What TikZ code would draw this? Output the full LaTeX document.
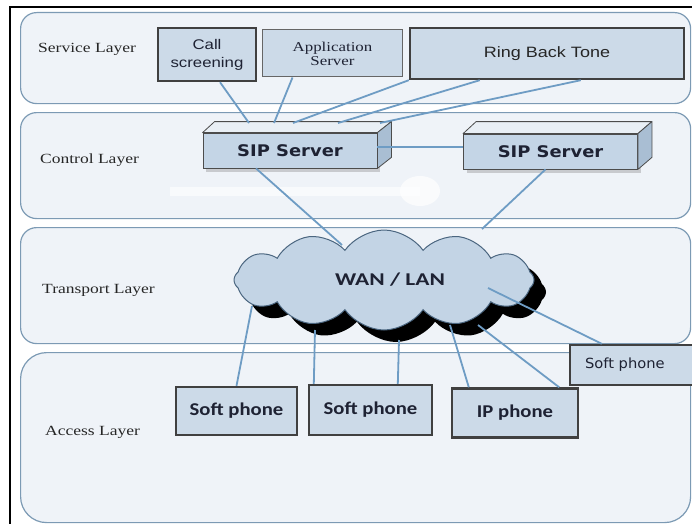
\documentclass[tikz,border=0pt]{standalone}
\usepackage{fontspec}
\setmainfont{Liberation Serif}
\newfontfamily\layerfont{Liberation Serif}[FakeStretch=1.25]
\newfontfamily\boxfont{Liberation Sans}[FakeStretch=1.2]
\newfontfamily\phonefont{Carlito}[FakeStretch=1.15]
\newfontfamily\wanfont{Carlito}[FakeStretch=1.3]
\newfontfamily\sipfont{DejaVu Sans}[FakeStretch=1.12]
\newfontfamily\plainphone{DejaVu Sans}[FakeStretch=1.05]
\usetikzlibrary{shapes.symbols,calc,shadows}

\definecolor{layerfill}{HTML}{EFF3F8}
\definecolor{layerline}{HTML}{7C9AB4}
\definecolor{boxfill}{HTML}{CCDAE8}
\definecolor{boxline}{HTML}{404040}
\definecolor{linkblue}{HTML}{6E9CC4}
\definecolor{cloudfill}{HTML}{C3D4E5}
\definecolor{cloudline}{HTML}{4B6680}
\definecolor{inktext}{HTML}{1E2233}
\definecolor{sipfill}{HTML}{C4D5E6}
\definecolor{siptop}{HTML}{E9EFF5}
\definecolor{sipside}{HTML}{A9BED3}

\tikzset{
  layer/.style={draw=layerline, fill=layerfill, line width=1.2pt,
    rounded corners=16pt, anchor=north west, inner sep=0pt},
  layerlabel/.style={anchor=west, text=black!85, inner sep=0pt,
    font=\layerfont\fontsize{14}{16}\selectfont},
  thickbox/.style={draw=boxline, fill=boxfill, line width=2.4pt, inner sep=0pt,
    text=inktext},
  thinbox/.style={draw=boxline!80, fill=boxfill, line width=1pt, inner sep=0pt,
    text=inktext},
  sipfront/.style={draw=black!70, fill=sipfill, line width=0.8pt, inner sep=0pt,
    minimum width=174pt, minimum height=35pt, text=inktext,
    font=\sipfont\bfseries\fontsize{16}{18}\selectfont,
    drop shadow={shadow xshift=3pt, shadow yshift=-4pt, opacity=0.35}},
  sipface/.style={draw=black!70, line width=0.8pt, line join=round},
  link/.style={draw=linkblue, line width=1.8pt},
  netcloud/.style={cloud, cloud puffs=12, cloud puff arc=110, aspect=3,
    minimum width=300pt, minimum height=100pt, inner sep=0pt},
  phonelabel/.style={font=\phonefont\bfseries\fontsize{18}{20}\selectfont}
}

\begin{document}
\begin{tikzpicture}[x=1pt,y=-1pt]
\useasboundingbox (0,0) rectangle (692,524);
\clip (0,0) rectangle (692,524);
\fill[white] (0,0) rectangle (692,524);

% page frame
\draw[line width=2pt] (692,7) -- (10,7) -- (10,524);

% the four layers
\node[layer, minimum width=670pt, minimum height=91pt] (service) at (20,12) {};
\node[layer, minimum width=670pt, minimum height=106pt] (control) at (20,112) {};
\node[layer, minimum width=670pt, minimum height=116pt] (transport) at (20,227) {};
\node[layer, minimum width=670pt, minimum height=170pt, rounded corners=26pt] (access) at (20,352) {};

\node[layerlabel] (lservice) at (38,49) {Service Layer};
\node[layerlabel] (lcontrol) at (40,160) {Control Layer};
\node[layerlabel] (ltransport) at (42,290) {Transport Layer};
\node[layerlabel] (laccess) at (45,432) {Access Layer};

% washed-out patch in the control layer
\fill[white, opacity=0.6] (170,187) rectangle (420,196);
\fill[white, opacity=0.7] (420,191) ellipse [x radius=20pt, y radius=15pt];

% service layer boxes
\node[thickbox, minimum width=98pt, minimum height=53pt, align=center,
  font=\boxfont\fontsize{14}{18}\selectfont] (cs) at (207,54.5) {Call\\screening};
\node[thinbox, minimum width=140pt, minimum height=47pt, align=center,
  font=\layerfont\fontsize{13.5}{14}\selectfont] (as) at (332.5,53.5) {Application\\Server};
\node[thickbox, minimum width=274pt, minimum height=51pt,
  font=\boxfont\fontsize{15}{17}\selectfont, text=black!85] (rbt) at (547,53.5) {Ring Back Tone};

% SIP servers drawn as boxes
\node[sipfront] (sipA) at (290,150.5) {SIP Server};
\filldraw[sipface, fill=siptop] (sipA.north west) -- ++(12pt,11pt)
  -- ($(sipA.north east)+(14pt,11pt)$) -- (sipA.north east) -- cycle;
\filldraw[sipface, fill=sipside] (sipA.north east) -- ++(14pt,11pt)
  -- ($(sipA.south east)+(14pt,11pt)$) -- (sipA.south east) -- cycle;

\node[sipfront] (sipB) at (550.5,151.5) {SIP Server};
\filldraw[sipface, fill=siptop] (sipB.north west) -- ++(13pt,12pt)
  -- ($(sipB.north east)+(14pt,12pt)$) -- (sipB.north east) -- cycle;
\filldraw[sipface, fill=sipside] (sipB.north east) -- ++(14pt,12pt)
  -- ($(sipB.south east)+(14pt,12pt)$) -- (sipB.south east) -- cycle;

% network cloud with its hard shadow
\node[netcloud, fill=black] (netshadow) at (396,292) {};
\node[netcloud, fill=cloudfill, draw=cloudline, line width=1pt] (net) at (384,280) {};
\node[font=\wanfont\bfseries\fontsize{18}{20}\selectfont, text=inktext] (wan) at (390,280) {WAN / LAN};

% access layer devices
\node[thickbox, minimum width=121pt, minimum height=48pt, phonelabel] (sp1) at (236.5,411) {Soft phone};
\node[thickbox, minimum width=123pt, minimum height=50pt, phonelabel] (sp2) at (370.5,410) {\raisebox{2pt}{Soft phone}};
\node[thickbox, minimum width=126pt, minimum height=49pt, phonelabel] (ip) at (515,413) {IP phone};
\node[thickbox, minimum width=132pt, minimum height=40pt, text width=102pt, align=left,
  inner xsep=15pt, font=\plainphone\fontsize{14}{16}\selectfont] (sp3) at (636,365) {Soft phone};

% attachment points on the SIP server tops
\coordinate (ta1) at (249,123);
\coordinate (ta2) at (274,123);
\coordinate (ta3) at (293,123);
\coordinate (ta4) at (338,123);
\coordinate (ta5) at (380,123);

% attachment points on the cloud
\coordinate (nA) at (342,245);
\coordinate (nB) at (482,229);
\coordinate (n1) at (252,306);
\coordinate (n2) at (315,330);
\coordinate (n3) at (399,340);
\coordinate (n4) at (450,325);
\coordinate (n5) at (478,325);
\coordinate (n6) at (488,288);

% service -> control links
\draw[link] ($(cs.south)+(13pt,0)$) -- (ta1);
\draw[link] ($(as.south)+(-40pt,0)$) -- (ta2);
\draw[link] (rbt.south west) -- (ta3);
\draw[link] ($(rbt.south west)+(71pt,0)$) -- (ta4);
\draw[link] ($(rbt.south west)+(172pt,0)$) -- (ta5);

% control links
\draw[link] ($(sipA.east)+(0,3.5pt)$) -- ($(sipB.west)+(0,4.5pt)$);
\draw[link] ($(sipA.south)+(-34pt,0)$) -- (nA);
\draw[link] ($(sipB.south)+(-5pt,0)$) -- (nB);

% transport -> access links
\draw[link] (n1) -- (sp1.north);
\draw[link] (n2) -- ($(sp2.north west)+(6pt,0)$);
\draw[link] (n3) -- ($(sp2.north west)+(90pt,0)$);
\draw[link] (n4) -- ($(ip.north west)+(18pt,0)$);
\draw[link] (n5) -- ($(ip.north east)+(-20pt,0)$);
\draw[link] (n6) -- ($(sp3.north west)+(33pt,0)$);
\end{tikzpicture}
\end{document}
